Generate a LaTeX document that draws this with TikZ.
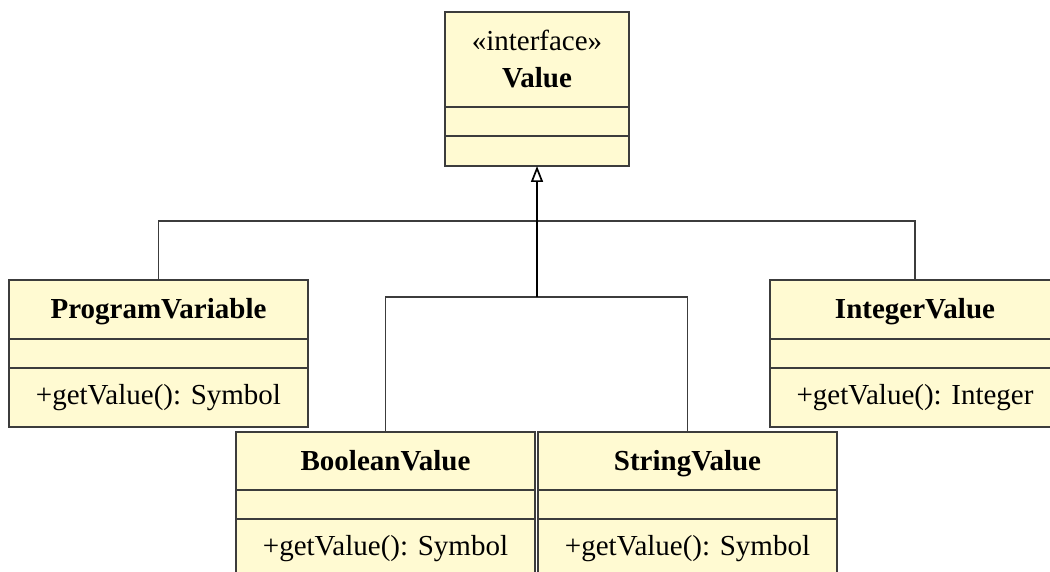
\documentclass[tikz,border=0pt]{standalone}
\usepackage{fontspec}
\setmainfont{Liberation Serif}
\usetikzlibrary{positioning, arrows.meta}
\definecolor{classfill}{RGB}{255,250,210}
\definecolor{classline}{RGB}{60,60,60}
\tikzstyle{classpart} = [draw=classline, fill=classfill, line width=1.3pt, rectangle, inner sep=0pt, outer sep=0pt, minimum width=299pt]
\tikzstyle{classname} = [classpart, minimum height=59pt, text height=20pt, text depth=1pt, font=\fontsize{29}{37}\selectfont\bfseries]
\tikzstyle{classattr} = [classpart, minimum height=29pt]
\tikzstyle{classop} = [classpart, minimum height=59pt, font=\fontsize{29}{34}\selectfont]
\tikzstyle{inherit} = [draw=classline, line width=1.3pt]

\begin{document}
\begin{tikzpicture}[x=1pt, y=1pt]
	\useasboundingbox (0,0) rectangle (1050,572);
	% interface
	\node[classpart, minimum width=184pt, minimum height=95pt, align=center, font=\fontsize{29}{37}\selectfont\bfseries] (value) at (537,512.5) {{\mdseries «interface»}\\Value};
	\node[classattr, minimum width=184pt, below=0pt of value] (valueattr) {};
	\node[classpart, minimum width=184pt, minimum height=30pt, below=0pt of valueattr] (valueop) {};
	% implementing classes
	\node[classname] (progvar) at (158.5,262.5) {ProgramVariable};
	\node[classattr, below=0pt of progvar] (progvarattr) {};
	\node[classop, below=0pt of progvarattr] (progvarop) {+getValue(): Symbol};
	\node[classname, minimum width=290pt] (intval) at (915,262.5) {IntegerValue};
	\node[classattr, minimum width=290pt, below=0pt of intval] (intvalattr) {};
	\node[classop, minimum width=290pt, below=0pt of intvalattr] (intvalop) {+getValue(): Integer};
	\node[classname, minimum height=58pt] (boolval) at (385.5,111) {BooleanValue};
	\node[classattr, below=0pt of boolval] (boolvalattr) {};
	\node[classop, below=0pt of boolvalattr] (boolvalop) {+getValue(): Symbol};
	\node[classname, minimum height=58pt] (strval) at (687.5,111) {StringValue};
	\node[classattr, below=0pt of strval] (strvalattr) {};
	\node[classop, below=0pt of strvalattr] (strvalop) {+getValue(): Symbol};
	% generalization
	\coordinate (bus) at (537,351);
	\coordinate (subbus) at (537,275);
	\draw[inherit] (progvar.north) |- (bus) -| (intval.north);
	\draw[inherit] (boolval.north) |- (subbus) -| (strval.north);
	\draw[inherit, draw=black, line width=1.7pt, -{Triangle[open, width=12pt, length=16pt]}] (subbus) -- (valueop.south);
\end{tikzpicture}
\end{document}
